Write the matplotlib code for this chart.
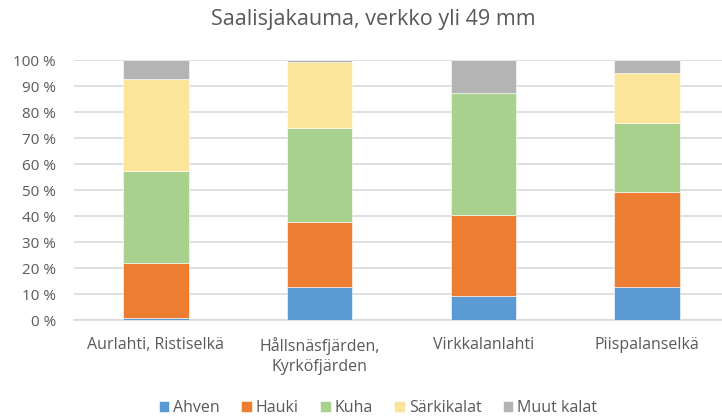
import matplotlib.pyplot as plt
import numpy as np
from matplotlib.ticker import FuncFormatter

# catch share per area (percent of catch)
areas = ["Aurlahti, Ristiselkä", "Hållsnäsfjärden,\nKyrköfjärden", "Virkkalanlahti", "Piispalanselkä"]
species = ["Ahven", "Hauki", "Kuha", "Särkikalat", "Muut kalat"]
ahven = [0.9, 12.6, 9.2, 12.7]
hauki = [21.1, 25.2, 31.3, 36.6]
kuha = [35.4, 36.1, 47.0, 26.3]
sarkikalat = [35.3, 25.2, 0.0, 19.4]
muut = [7.3, 0.9, 12.5, 5.0]
colors = ["#5b9bd5", "#ed7d31", "#a9d18e", "#fbe59a", "#b4b4b4"]

text_col = "#595959"
plt.rcParams['font.family'] = ['Open Sans', 'DejaVu Sans']

fig = plt.figure(figsize=(7.22, 4.19), dpi=100)
W, H = 722, 419
ax = fig.add_axes([74 / W, 1 - 320 / H, (729 - 74) / W, (320 - 60) / H])

x = np.arange(len(areas))
bottom = np.zeros(len(areas))
for name, vals, c in zip(species, [ahven, hauki, kuha, sarkikalat, muut], colors):
    ax.bar(x, vals, 0.4, bottom=bottom, color=c, label=name, zorder=3,
           edgecolor="white", linewidth=0.4)
    bottom += np.array(vals)

ax.set_xlim(-0.5, len(areas) - 0.5)
ax.set_ylim(0, 100)
ax.set_yticks(range(0, 101, 10))
ax.yaxis.set_major_formatter(FuncFormatter(lambda v, p: f"{int(v)} %"))
ax.grid(axis="y", color="#d9d9d9", linewidth=1.2, zorder=0)
for s in ["top", "right", "left"]:
    ax.spines[s].set_visible(False)
ax.spines["bottom"].set_color("#d9d9d9")
ax.spines["bottom"].set_linewidth(1.2)
ax.tick_params(axis="both", length=0, colors=text_col, labelsize=11.5)
ax.tick_params(axis="y", labelsize=11, pad=13)
ax.tick_params(axis="x", pad=12)
ax.set_xticks(x)
ax.set_xticklabels(areas, linespacing=1.35)

fig.text(373 / W, 1 - 20 / H, "Saalisjakauma, verkko yli 49 mm", ha="center", va="center",
         fontsize=15.5, color=text_col)

fig.legend(loc="center", bbox_to_anchor=(378 / W, 1 - 408 / H), ncol=5, frameon=False,
           fontsize=11.5, handlelength=0.65, handleheight=0.65, handletextpad=0.25,
           columnspacing=1.35, labelcolor=text_col)

fig.savefig("out.png", dpi=100)
